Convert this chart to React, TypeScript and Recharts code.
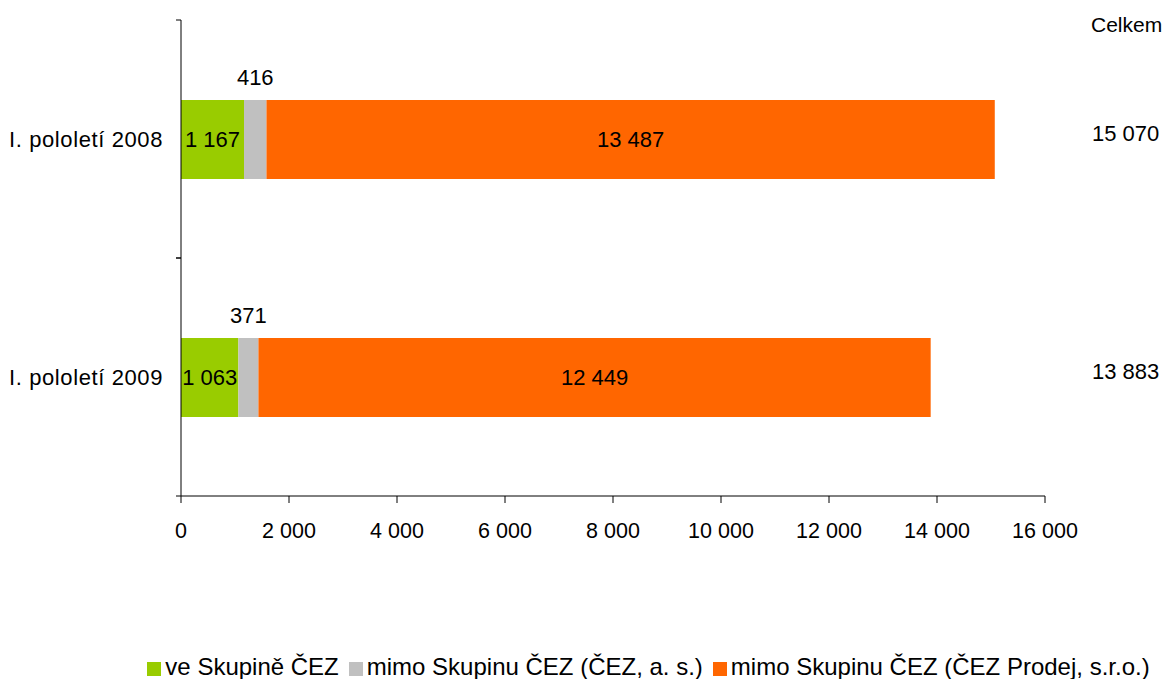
import {
  BarChart,
  Bar,
  XAxis,
  YAxis,
  LabelList,
  Legend,
} from "recharts";

const categories = ["I. pololetí 2008", "I. pololetí 2009"];
const veSkupine = [1167, 1063];
const mimoCez = [416, 371];
const mimoProdej = [13487, 12449];
const xTicks = [0, 2000, 4000, 6000, 8000, 10000, 12000, 14000, 16000];

const seriesNames = [
  "ve Skupině ČEZ",
  "mimo Skupinu ČEZ (ČEZ, a. s.)",
  "mimo Skupinu ČEZ (ČEZ Prodej, s.r.o.)",
];
const seriesColors = ["#99CC00", "#C0C0C0", "#FF6600"];

const data = categories.map((name, i) => ({
  name,
  a: veSkupine[i],
  b: mimoCez[i],
  c: mimoProdej[i],
  total: veSkupine[i] + mimoCez[i] + mimoProdej[i],
}));

const fmt = (v: any) =>
  String(v).replace(/\B(?=(\d{3})+(?!\d))/g, " ");

const FONT = "'Liberation Sans', Arial, sans-serif";

function CategoryTick(props: any) {
  const { x, y, payload } = props;
  const half = payload?.offset ?? 0;
  const ax = x + 18;
  return (
    <g>
      <line x1={ax - 5} x2={ax} y1={y - half} y2={y - half} stroke="#000" />
      <line x1={ax - 5} x2={ax} y1={y + half} y2={y + half} stroke="#000" />
      <text
        x={x}
        y={y}
        dy={8}
        textAnchor="end"
        fontSize={22}
        letterSpacing={0.6}
        fill="#000"
        fontFamily={FONT}
      >
        {payload.value}
      </text>
    </g>
  );
}

function TotalTick(props: any) {
  const { x, y, payload } = props;
  const row = data.find((d) => d.name === payload.value);
  return (
    <text
      x={x}
      y={y}
      dy={2}
      textAnchor="start"
      fontSize={22}
      fill="#000"
      fontFamily={FONT}
    >
      {row ? fmt(row.total) : ""}
    </text>
  );
}

export default function App() {
  return (
    <div
      style={{
        position: "absolute",
        left: 0,
        top: 0,
        width: 1171,
        height: 679,
        fontFamily: FONT,
        background: "#fff",
      }}
    >
      <BarChart
        width={1171}
        height={679}
        data={data}
        layout="vertical"
        margin={{ top: 20, right: 0, bottom: 0, left: 0 }}
      >
        <XAxis
          type="number"
          domain={[0, 16000]}
          ticks={xTicks}
          tickFormatter={fmt}
          interval={0}
          tickSize={7}
          tickMargin={20}
          height={159}
          axisLine={{ stroke: "#000" }}
          tickLine={{ stroke: "#000" }}
          tick={{ fontSize: 21.5, fill: "#000" }}
        />
        <YAxis
          yAxisId="left"
          type="category"
          dataKey="name"
          width={181}
          tickSize={5}
          tickMargin={13}
          tickLine={false}
          axisLine={{ stroke: "#000" }}
          tick={<CategoryTick />}
        />
        <YAxis
          yAxisId="right"
          orientation="right"
          type="category"
          dataKey="name"
          width={126}
          tickSize={0}
          tickMargin={47}
          tickLine={false}
          axisLine={false}
          tick={<TotalTick />}
          label={{
            content: (p: any) => (
              <text
                x={p.viewBox.x + 46}
                y={p.viewBox.y + 12}
                fontSize={21}
                fill="#000"
                fontFamily={FONT}
              >
                Celkem
              </text>
            ),
          }}
        />
        <Legend
          verticalAlign="bottom"
          align="center"
          iconType="square"
          iconSize={14}
          itemSorter={(item: any) => seriesNames.indexOf(item.value)}
          wrapperStyle={{
            fontSize: 24,
            lineHeight: "24px",
            bottom: 0,
            left: 68,
            width: 1171,
          }}
          formatter={(v: any) => <span style={{ color: "#000" }}>{v}</span>}
        />
        <Bar
          yAxisId="left"
          dataKey="a"
          name={seriesNames[0]}
          stackId="s"
          fill={seriesColors[0]}
          barSize={79}
          isAnimationActive={false}
        >
          <LabelList
            dataKey="a"
            position="center"
            formatter={fmt}
            fill="#000"
            fontSize={22}
          />
        </Bar>
        <Bar
          yAxisId="left"
          dataKey="b"
          name={seriesNames[1]}
          stackId="s"
          fill={seriesColors[1]}
          barSize={79}
          isAnimationActive={false}
        >
          <LabelList
            dataKey="b"
            position="top"
            offset={15}
            formatter={fmt}
            fill="#000"
            fontSize={22}
          />
        </Bar>
        <Bar
          yAxisId="left"
          dataKey="c"
          name={seriesNames[2]}
          stackId="s"
          fill={seriesColors[2]}
          barSize={79}
          isAnimationActive={false}
        >
          <LabelList
            dataKey="c"
            position="center"
            formatter={fmt}
            fill="#000"
            fontSize={22}
          />
        </Bar>
      </BarChart>
    </div>
  );
}
